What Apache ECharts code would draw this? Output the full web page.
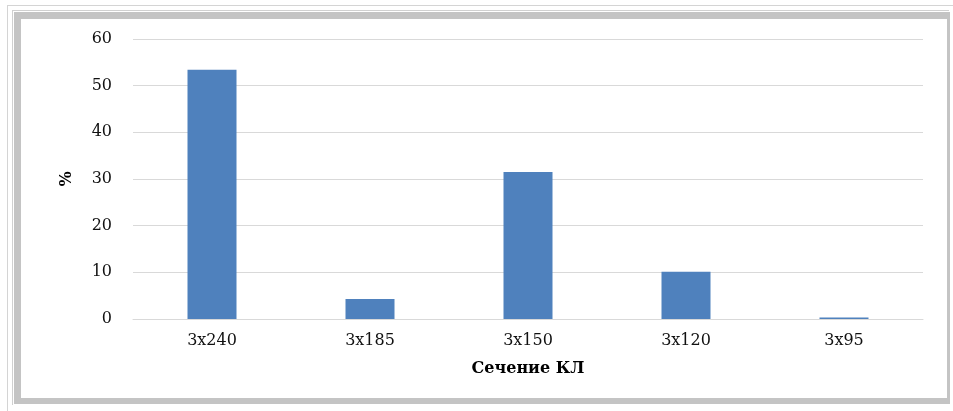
<!DOCTYPE html>
<html>
<head>
<meta charset="utf-8">
<script src="https://cdn.jsdelivr.net/npm/echarts@6/dist/echarts.min.js"></script>
<style>
  html, body { margin: 0; padding: 0; background: #fff; }
  #wrap { position: relative; width: 953px; height: 411px; overflow: hidden; }
  .line-top { position: absolute; left: 7px; top: 5px; width: 946px; height: 1px; background: #d4d4d4; }
  .line-left { position: absolute; left: 7px; top: 5px; width: 1px; height: 406px; background: #d4d4d4; }
  .frame { position: absolute; left: 12px; top: 10px; width: 937px; height: 395px;
           border-left: 1px solid #d0d0d0; border-top: 1px solid #d0d0d0; box-sizing: border-box; }
  .band { position: absolute; left: 14px; top: 12px; width: 936px; height: 392px;
          box-sizing: border-box; border: 7px solid #c4c4c4; border-right-width: 3px; border-bottom-width: 6px; }
  .inner { position: absolute; left: 21px; top: 19px; width: 926px; height: 379px; background: #fff; }
  #chart { position: absolute; left: 0; top: 0; width: 953px; height: 411px; }
</style>
</head>
<body>
<div id="wrap">
  <div class="line-top"></div>
  <div class="line-left"></div>
  <div class="frame"></div>
  <div class="band"></div>
  <div class="inner"></div>
  <div id="chart"></div>
</div>
<script>
// Cable cross-section shares, %
const categories = ['3x240', '3x185', '3x150', '3x120', '3x95'];
const shares = [53.4, 4.3, 31.5, 10.1, 0.3];

const serif = '"DejaVu Serif", "Liberation Serif", serif';

const chart = echarts.init(document.getElementById('chart'), null, { renderer: 'canvas' });
chart.setOption({
  backgroundColor: 'transparent',
  animation: false,
  grid: { left: 133, right: 30, top: 39, bottom: 92 },
  xAxis: {
    type: 'category',
    data: categories,
    name: 'Сечение КЛ',
    nameLocation: 'middle',
    nameGap: 42,
    nameTextStyle: { fontFamily: serif, fontWeight: 'bold', fontSize: 16, color: '#000' },
    axisLine: { show: true, lineStyle: { color: '#d9d9d9', width: 1 } },
    axisTick: { show: false },
    axisLabel: { fontFamily: serif, fontSize: 16, color: '#111', margin: 14 }
  },
  yAxis: {
    type: 'value',
    min: 0,
    max: 60,
    interval: 10,
    name: '%',
    nameLocation: 'middle',
    nameGap: 58,
    nameRotate: 90,
    nameTextStyle: { fontFamily: serif, fontWeight: 'bold', fontSize: 16, color: '#000' },
    axisLine: { show: false },
    axisTick: { show: false },
    axisLabel: { fontFamily: serif, fontSize: 16, color: '#111', margin: 21 },
    splitLine: { lineStyle: { color: '#d9d9d9', width: 1 } }
  },
  series: [{
    type: 'bar',
    data: shares,
    barWidth: 49,
    itemStyle: { color: '#4f81bd' }
  }]
});
</script>
</body>
</html>
